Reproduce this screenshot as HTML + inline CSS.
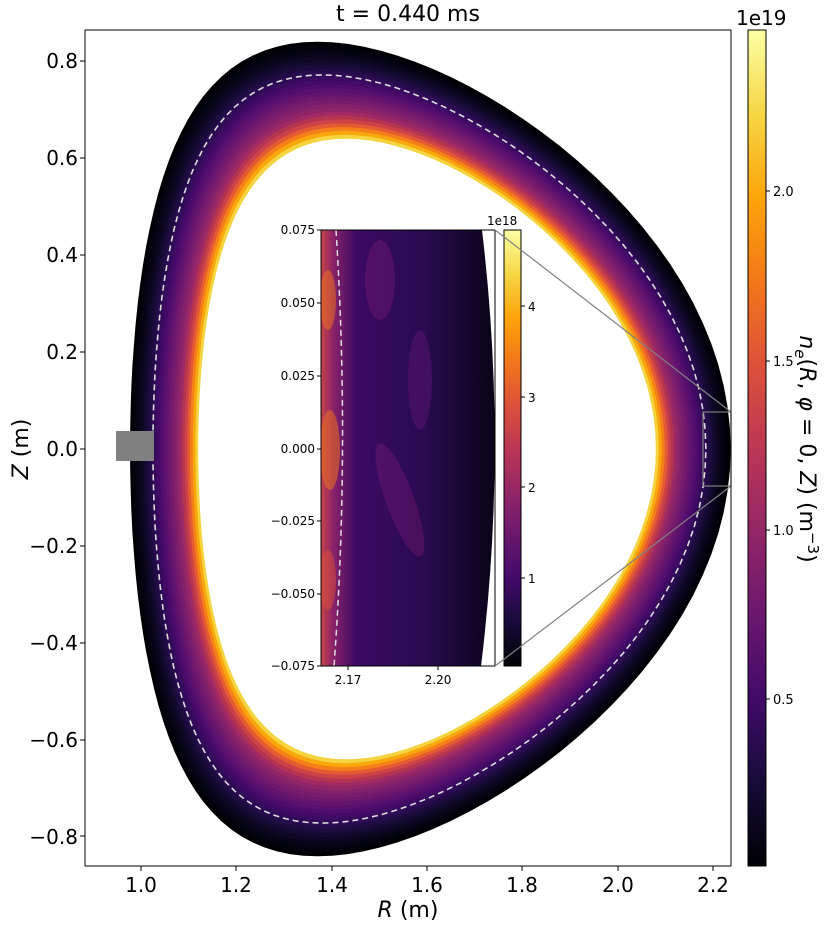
<!DOCTYPE html>
<html><head><meta charset="utf-8"><style>
html,body{margin:0;padding:0;background:#fff;}
svg{display:block;font-family:"DejaVu Sans","Liberation Sans",sans-serif;}
</style></head><body>
<svg id="s" width="830" height="929" viewBox="0 0 830 929" xmlns="http://www.w3.org/2000/svg">
<defs>
<linearGradient id="inf" x1="0" y1="1" x2="0" y2="0">
<stop offset="0" stop-color="#000004"/><stop offset="0.1" stop-color="#160b39"/>
<stop offset="0.2" stop-color="#420a68"/><stop offset="0.3" stop-color="#6a176e"/>
<stop offset="0.4" stop-color="#932667"/><stop offset="0.5" stop-color="#bc3754"/>
<stop offset="0.6" stop-color="#dd513a"/><stop offset="0.7" stop-color="#f37819"/>
<stop offset="0.8" stop-color="#fca50a"/><stop offset="0.9" stop-color="#f6d746"/>
<stop offset="1" stop-color="#fcffa4"/></linearGradient>
<linearGradient id="insetg" x1="0" y1="0" x2="1" y2="0">
<stop offset="0" stop-color="#c84448"/><stop offset="0.07" stop-color="#8a226a"/>
<stop offset="0.2" stop-color="#3d0a63"/><stop offset="0.6" stop-color="#280b50"/>
<stop offset="1" stop-color="#0a0418"/></linearGradient>
<clipPath id="ic"><path id="icp" d=""/></clipPath>
</defs>
<g id="plasma"></g>
<rect x="116" y="431" width="38" height="30" fill="#808080"/>
<rect x="321" y="230" width="174" height="436" fill="#fff"/>
<path id="insetfill" fill="url(#insetg)" d=""/>
<g clip-path="url(#ic)" opacity="0.5">
<ellipse cx="380" cy="280" rx="15" ry="40" fill="#6a176e"/>
<ellipse cx="420" cy="380" rx="12" ry="50" fill="#5a1470"/>
<ellipse cx="400" cy="500" rx="14" ry="60" fill="#6a176e" transform="rotate(-20 400 500)"/>
<ellipse cx="330" cy="450" rx="10" ry="40" fill="#f37819"/>
<ellipse cx="328" cy="300" rx="8" ry="30" fill="#f37819"/>
<ellipse cx="328" cy="580" rx="8" ry="30" fill="#dd513a"/>
</g>
<path d="M336 230 Q350 450 334 666" stroke="#ddd" stroke-width="1.5" fill="none" stroke-dasharray="6,4"/>
<rect x="321" y="230" width="174" height="436" fill="none" stroke="#000" stroke-width="1"/>
<rect x="504" y="230" width="17" height="436" fill="url(#inf)" stroke="#000" stroke-width="1"/>
<g font-size="12" fill="#000">
<g text-anchor="end">
<text x="315" y="234">0.075</text><text x="315" y="307">0.050</text><text x="315" y="380">0.025</text>
<text x="315" y="453">0.000</text><text x="315" y="525">−0.025</text><text x="315" y="598">−0.050</text><text x="315" y="670">−0.075</text>
</g>
<g stroke="#000"><line x1="317" x2="321" y1="230" y2="230"/><line x1="317" x2="321" y1="303" y2="303"/><line x1="317" x2="321" y1="376" y2="376"/><line x1="317" x2="321" y1="449" y2="449"/><line x1="317" x2="321" y1="521" y2="521"/><line x1="317" x2="321" y1="594" y2="594"/><line x1="317" x2="321" y1="666" y2="666"/>
<line x1="348" x2="348" y1="666" y2="670"/><line x1="438" x2="438" y1="666" y2="670"/>
<line x1="521" x2="525" y1="306" y2="306"/><line x1="521" x2="525" y1="397" y2="397"/><line x1="521" x2="525" y1="487" y2="487"/><line x1="521" x2="525" y1="578" y2="578"/></g>
<text x="348" y="684" text-anchor="middle">2.17</text><text x="438" y="684" text-anchor="middle">2.20</text>
<text x="528" y="311">4</text><text x="528" y="402">3</text><text x="528" y="492">2</text><text x="528" y="583">1</text>
<text x="487" y="225">1e18</text>
</g>
<g stroke="#808080" stroke-width="1.2" fill="none">
<rect x="703" y="412" width="28" height="74"/>
<line x1="495" y1="230" x2="731" y2="412"/><line x1="495" y1="666" x2="731" y2="486"/>
</g>
<rect x="85" y="30" width="646" height="836" fill="none" stroke="#000" stroke-width="1"/>
<g font-size="20" fill="#000">
<g text-anchor="end">
<text x="78" y="68">0.8</text><text x="78" y="165">0.6</text><text x="78" y="262">0.4</text><text x="78" y="359">0.2</text>
<text x="78" y="456">0.0</text><text x="78" y="553">−0.2</text><text x="78" y="650">−0.4</text><text x="78" y="747">−0.6</text><text x="78" y="844">−0.8</text>
</g>
<g text-anchor="middle">
<text x="141" y="892">1.0</text><text x="236" y="892">1.2</text><text x="332" y="892">1.4</text><text x="427" y="892">1.6</text>
<text x="522" y="892">1.8</text><text x="618" y="892">2.0</text><text x="713" y="892">2.2</text>
<text x="408" y="917" font-size="22"><tspan font-style="italic">R</tspan> (m)</text>
<text x="408" y="21" font-size="22">t = 0.440 ms</text>
</g>
<text transform="translate(28 449) rotate(-90)" text-anchor="middle" font-size="22"><tspan font-style="italic">Z</tspan> (m)</text>
</g>
<g stroke="#000" id="ticks"></g>
<rect x="748" y="30" width="18" height="836" fill="url(#inf)" stroke="#000" stroke-width="1"/>
<g stroke="#000"><line x1="766" x2="770" y1="191" y2="191"/><line x1="766" x2="770" y1="361" y2="361"/><line x1="766" x2="770" y1="530" y2="530"/><line x1="766" x2="770" y1="699" y2="699"/></g>
<g font-size="13" fill="#000"><text x="773" y="196">2.0</text><text x="773" y="366">1.5</text><text x="773" y="535">1.0</text><text x="773" y="704">0.5</text></g>
<text x="736" y="25" font-size="20">1e19</text>
<text transform="translate(800 449) rotate(90)" text-anchor="middle" font-size="22"><tspan font-style="italic">n</tspan><tspan font-size="15" dy="5" font-style="italic">e</tspan><tspan dy="-5">(</tspan><tspan font-style="italic">R</tspan>, <tspan font-style="italic">φ</tspan> = 0, <tspan font-style="italic">Z</tspan>) (m<tspan font-size="15" dy="-8">−3</tspan><tspan dy="8">)</tspan></text>
</svg>
<script>
var NS="http://www.w3.org/2000/svg";
function X(R){return 141+(R-1)*476.7;}function Y(Z){return 449-Z*485;}
function shape(R0,a,d,k){var s="";for(var i=0;i<=360;i+=3){var t=i*Math.PI/180;var R=R0+a*Math.cos(t+d*Math.sin(t));var Z=k*a*Math.sin(t);s+=(i?"L":"M")+X(R).toFixed(1)+" "+Y(Z).toFixed(1);}return s+"Z";}
var O=[1.607,0.63,0.385,1.333],I=[1.6,0.48,0.362,1.333];
var cols=["#000004","#02020c","#050414","#09061c","#0e0826","#140a31","#1c0c3d","#250b4a","#2f0a56","#3a0a61","#450a68","#500d6b","#5a116e","#64146e","#6e186e","#781c6d","#84216b","#902568","#a02a63","#b5344f","#cc4248","#e45a33","#f58019","#f9a80c","#f5d43f"];
var g=document.getElementById("plasma");
function add(d,f,st){var p=document.createElementNS(NS,"path");p.setAttribute("d",d);p.setAttribute("fill",f);if(st){for(var k in st)p.setAttribute(k,st[k]);}g.appendChild(p);}
for(var j=0;j<cols.length;j++){var f=j/cols.length;var P=O.map(function(v,i){return v+(I[i]-v)*f;});add(shape.apply(null,P),cols[j]);}
add(shape.apply(null,I),"#ffffff");
add(shape(1.605,0.58,0.398,1.33),"none",{stroke:"#ddd","stroke-width":"1.6","stroke-dasharray":"6,4"});
var ins="M321 230 L482 230 Q508 448 481 666 L321 666 Z";
document.getElementById("insetfill").setAttribute("d",ins);document.getElementById("icp").setAttribute("d",ins);
var tk=document.getElementById("ticks"),h="";
[61,158,255,352,449,546,643,740,836].forEach(function(y){h+='<line x1="80" x2="85" y1="'+y+'" y2="'+y+'"/>';});
[141,236,332,427,522,618,713].forEach(function(x){h+='<line x1="'+x+'" x2="'+x+'" y1="866" y2="871"/>';});
tk.innerHTML=h;
</script>
</body></html>
